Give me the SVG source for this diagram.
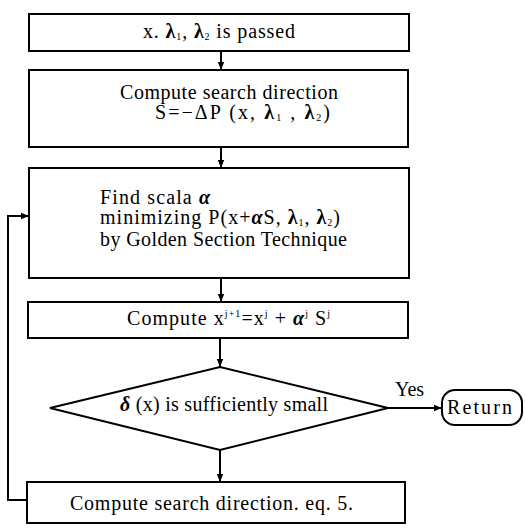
<svg xmlns="http://www.w3.org/2000/svg" width="525" height="529" viewBox="0 0 525 529">
<style>
.box{fill:#fff;stroke:#000;stroke-width:2}
.t{font-family:"Liberation Serif","Times New Roman",serif;font-size:20px;fill:#000}
.g{font-weight:bold}
.sub{font-size:10px}
.ln{fill:none;stroke:#000;stroke-width:2}
</style>
<defs>
<marker id="ah" viewBox="0 0 10 10" refX="10" refY="5" markerWidth="4" markerHeight="4" orient="auto" markerUnits="strokeWidth">
<path d="M0,1 L10,5 L0,9 z" fill="#000"/>
</marker>
</defs>
<rect width="525" height="529" fill="#fff"/>
<g id="connectors">
<path class="ln" d="M221,51 V70" marker-end="url(#ah)"/>
<path class="ln" d="M221,147 V168" marker-end="url(#ah)"/>
<path class="ln" d="M221,278 V302" marker-end="url(#ah)"/>
<path class="ln" d="M220,338 V367" marker-end="url(#ah)"/>
<path class="ln" d="M220,450 V482" marker-end="url(#ah)"/>
<path class="ln" d="M388,408 H442" marker-end="url(#ah)"/>
<path class="ln" d="M27,500 H8 V216 H29" marker-end="url(#ah)"/>
<text class="t" x="395" y="396" font-size="19">Yes</text>
</g>
<g id="n1">
<rect class="box" x="29" y="14" width="380" height="37"/>
<text class="t" x="143" y="38" textLength="152" lengthAdjust="spacing">x. <tspan class="g">λ</tspan><tspan class="sub" dy="2">1</tspan><tspan dy="-2">, </tspan><tspan class="g">λ</tspan><tspan class="sub" dy="2">2</tspan><tspan dy="-2"> is passed</tspan></text>
</g>
<g id="n2">
<rect class="box" x="29" y="70" width="379" height="77"/>
<text class="t" x="120" y="99" textLength="218" lengthAdjust="spacing">Compute search direction</text>
<text class="t" x="155" y="119" textLength="175" lengthAdjust="spacing">S=−ΔP (x, <tspan class="g">λ</tspan><tspan class="sub" dy="2">1</tspan><tspan dy="-2"> , </tspan><tspan class="g">λ</tspan><tspan class="sub" dy="2">2</tspan><tspan dy="-2">)</tspan></text>
</g>
<g id="n3">
<rect class="box" x="29" y="168" width="380" height="110"/>
<text class="t" x="100" y="204" textLength="110" lengthAdjust="spacing">Find scala <tspan class="g" font-style="italic">α</tspan></text>
<text class="t" x="100" y="224" textLength="240" lengthAdjust="spacing">minimizing P(x+<tspan class="g" font-style="italic">α</tspan>S, <tspan class="g">λ</tspan><tspan class="sub" dy="2">1</tspan><tspan dy="-2">, </tspan><tspan class="g">λ</tspan><tspan class="sub" dy="2">2</tspan><tspan dy="-2">)</tspan></text>
<text class="t" x="100" y="246" textLength="247" lengthAdjust="spacing">by Golden Section  Technique</text>
</g>
<g id="n4">
<rect class="box" x="28" y="302" width="380" height="36"/>
<text class="t" x="127" y="325" textLength="203" lengthAdjust="spacing">Compute x<tspan class="sub" dy="-8">j+1</tspan><tspan dy="8">=x</tspan><tspan class="sub" dy="-8">j</tspan><tspan dy="8"> + </tspan><tspan class="g" font-style="italic">α</tspan><tspan class="sub" dy="-8">j</tspan><tspan dy="8"> S</tspan><tspan class="sub" dy="-8">j</tspan></text>
</g>
<g id="n5">
<polygon class="box" points="50,408 220,367 388,408 220,450"/>
<text class="t" x="120" y="411" textLength="208" lengthAdjust="spacing"><tspan font-style="italic" class="g">δ</tspan> (x) is  sufficiently  small</text>
</g>
<g id="n6">
<rect class="box" x="442" y="390" width="80" height="35" rx="13" ry="13"/>
<text class="t" x="447" y="414" textLength="65" lengthAdjust="spacing">Return</text>
</g>
<g id="n7">
<rect class="box" x="27" y="482" width="378" height="41"/>
<text class="t" x="70" y="510" textLength="283" lengthAdjust="spacing">Compute search   direction. eq. 5.</text>
</g>
</svg>
